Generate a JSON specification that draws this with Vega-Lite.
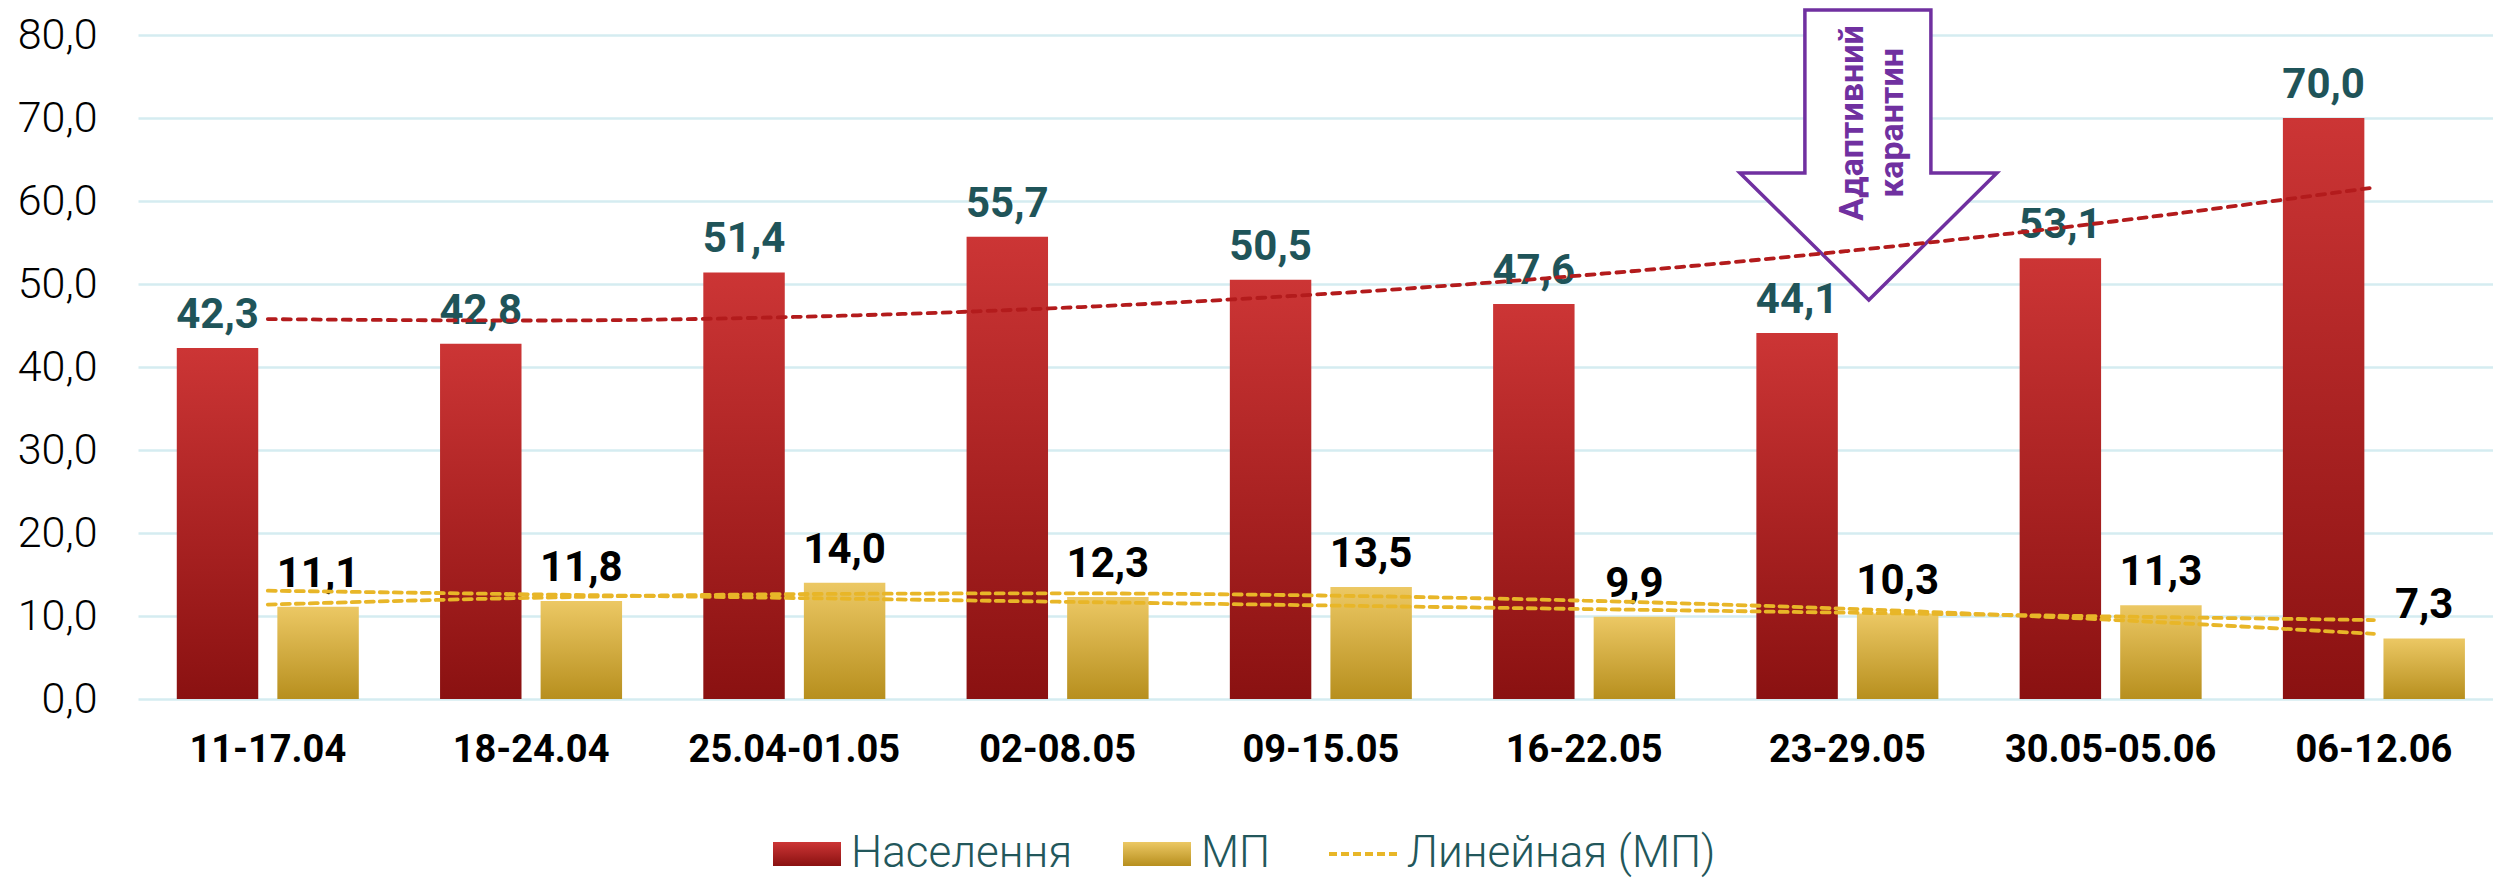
{
  "$schema": "https://vega.github.io/schema/vega-lite/v6.json",
  "width": 2355,
  "height": 664,
  "autosize": {"type": "none"},
  "padding": {"left": 138, "top": 35, "right": 0, "bottom": 179},
  "background": "#ffffff",
  "config": {
    "view": {"stroke": null},
    "locale": {"number": {"decimal": ",", "thousands": " ", "grouping": [3], "currency": ["", ""]}}
  },
  "datasets": {
    "bars": [
      {"week": "11-17.04", "series": "Населення", "value": 42.3},
      {"week": "11-17.04", "series": "МП", "value": 11.1},
      {"week": "18-24.04", "series": "Населення", "value": 42.8},
      {"week": "18-24.04", "series": "МП", "value": 11.8},
      {"week": "25.04-01.05", "series": "Населення", "value": 51.4},
      {"week": "25.04-01.05", "series": "МП", "value": 14.0},
      {"week": "02-08.05", "series": "Населення", "value": 55.7},
      {"week": "02-08.05", "series": "МП", "value": 12.3},
      {"week": "09-15.05", "series": "Населення", "value": 50.5},
      {"week": "09-15.05", "series": "МП", "value": 13.5},
      {"week": "16-22.05", "series": "Населення", "value": 47.6},
      {"week": "16-22.05", "series": "МП", "value": 9.9},
      {"week": "23-29.05", "series": "Населення", "value": 44.1},
      {"week": "23-29.05", "series": "МП", "value": 10.3},
      {"week": "30.05-05.06", "series": "Населення", "value": 53.1},
      {"week": "30.05-05.06", "series": "МП", "value": 11.3},
      {"week": "06-12.06", "series": "Населення", "value": 70.0},
      {"week": "06-12.06", "series": "МП", "value": 7.3}
    ],
    "trends": [
      {"week": "11-17.04", "trend": "Полиномиальная (Населення)", "value": 45.77},
      {"week": "18-24.04", "trend": "Полиномиальная (Населення)", "value": 45.60},
      {"week": "25.04-01.05", "trend": "Полиномиальная (Населення)", "value": 46.03},
      {"week": "02-08.05", "trend": "Полиномиальная (Населення)", "value": 47.10},
      {"week": "09-15.05", "trend": "Полиномиальная (Населення)", "value": 48.77},
      {"week": "16-22.05", "trend": "Полиномиальная (Населення)", "value": 51.06},
      {"week": "23-29.05", "trend": "Полиномиальная (Населення)", "value": 53.97},
      {"week": "30.05-05.06", "trend": "Полиномиальная (Населення)", "value": 57.50},
      {"week": "06-12.06", "trend": "Полиномиальная (Населення)", "value": 61.63},
      {"week": "11-17.04", "trend": "Полиномиальная (МП)", "value": 11.38},
      {"week": "18-24.04", "trend": "Полиномиальная (МП)", "value": 12.19},
      {"week": "25.04-01.05", "trend": "Полиномиальная (МП)", "value": 12.64},
      {"week": "02-08.05", "trend": "Полиномиальная (МП)", "value": 12.73},
      {"week": "09-15.05", "trend": "Полиномиальная (МП)", "value": 12.47},
      {"week": "16-22.05", "trend": "Полиномиальная (МП)", "value": 11.85},
      {"week": "23-29.05", "trend": "Полиномиальная (МП)", "value": 10.87},
      {"week": "30.05-05.06", "trend": "Полиномиальная (МП)", "value": 9.54},
      {"week": "06-12.06", "trend": "Полиномиальная (МП)", "value": 7.85},
      {"week": "11-17.04", "trend": "Линейная (МП)", "value": 13.05},
      {"week": "18-24.04", "trend": "Линейная (МП)", "value": 12.61},
      {"week": "25.04-01.05", "trend": "Линейная (МП)", "value": 12.17},
      {"week": "02-08.05", "trend": "Линейная (МП)", "value": 11.72},
      {"week": "09-15.05", "trend": "Линейная (МП)", "value": 11.28},
      {"week": "16-22.05", "trend": "Линейная (МП)", "value": 10.84},
      {"week": "23-29.05", "trend": "Линейная (МП)", "value": 10.40},
      {"week": "30.05-05.06", "trend": "Линейная (МП)", "value": 9.95},
      {"week": "06-12.06", "trend": "Линейная (МП)", "value": 9.51}
    ],
    "notes": [
      {"week": "23-29.05", "note": "Адаптивний карантин"}
    ]
  },
  "encoding": {
    "x": {
      "field": "week",
      "type": "nominal",
      "scale": {
        "domain": ["11-17.04", "18-24.04", "25.04-01.05", "02-08.05", "09-15.05", "16-22.05", "23-29.05", "30.05-05.06", "06-12.06"],
        "paddingInner": 0.3086,
        "paddingOuter": 0.127,
        "align": 0.58
      },
      "axis": {
        "title": null,
        "labelAngle": 0,
        "labelFont": "Roboto",
        "labelFontWeight": "bold",
        "labelFontSize": 38,
        "labelColor": "#000000",
        "labelLimit": 600,
        "ticks": false,
        "domain": false,
        "grid": false,
        "labelPadding": 32
      }
    }
  },
  "layer": [
    {
      "data": {"name": "bars"},
      "transform": [{"filter": "datum.series === 'Населення'"}],
      "mark": {
        "type": "bar",
        "color": {"gradient": "linear", "x1": 0, "y1": 0, "x2": 0, "y2": 1, "stops": [{"offset": 0, "color": "#cc3535"}, {"offset": 1, "color": "#8a1111"}]}
      },
      "encoding": {
        "xOffset": {"field": "series", "type": "nominal", "scale": {"domain": ["Населення", "МП"], "paddingInner": 0.19, "paddingOuter": 0}},
        "y": {
          "field": "value",
          "type": "quantitative",
          "scale": {"domain": [0, 80], "nice": false},
          "axis": {
            "title": null,
            "values": [0, 10, 20, 30, 40, 50, 60, 70, 80],
            "format": ".1f",
            "labelFont": "Roboto",
            "labelFontWeight": 300,
            "labelFontSize": 43,
            "labelColor": "#000000",
            "ticks": false,
            "domain": false,
            "labelPadding": 41,
            "gridColor": "#d5ecf1",
            "gridWidth": 2.5
          }
        }
      }
    },
    {
      "data": {"name": "bars"},
      "transform": [{"filter": "datum.series === 'МП'"}],
      "mark": {
        "type": "bar",
        "color": {"gradient": "linear", "x1": 0, "y1": 0, "x2": 0, "y2": 1, "stops": [{"offset": 0, "color": "#ecc864"}, {"offset": 1, "color": "#b78f1e"}]}
      },
      "encoding": {
        "xOffset": {"field": "series", "type": "nominal"},
        "y": {"field": "value", "type": "quantitative"}
      }
    },
    {
      "data": {"name": "bars"},
      "mark": {"type": "text", "font": "Roboto", "fontWeight": "bold", "fontSize": 42, "align": "center", "baseline": "alphabetic", "dy": -20},
      "encoding": {
        "xOffset": {"field": "series", "type": "nominal"},
        "y": {"field": "value", "type": "quantitative"},
        "text": {"field": "value", "type": "quantitative", "format": ".1f"},
        "color": {"condition": {"test": "datum.series === 'Населення'", "value": "#1f5459"}, "value": "#000000"}
      }
    },
    {
      "data": {"name": "notes"},
      "mark": {
        "type": "point",
        "shape": "M-0.293,-1L0.576,-1L0.576,0.124L1.031,0.124L0.148,1L-0.741,0.124L-0.293,0.124Z",
        "size": 84100,
        "filled": true,
        "fill": "#ffffff",
        "stroke": "#7030a0",
        "strokeWidth": 3.5,
        "opacity": 1,
        "fillOpacity": 1
      },
      "encoding": {
        "y": {"datum": 65.54, "type": "quantitative"}
      }
    },
    {
      "data": {"name": "notes"},
      "mark": {
        "type": "text",
        "text": ["Адаптивний", "карантин"],
        "angle": 270,
        "font": "Roboto",
        "fontWeight": "bold",
        "fontSize": 34,
        "color": "#7030a0",
        "align": "center",
        "baseline": "middle",
        "lineHeight": 40,
        "dy": 6
      },
      "encoding": {
        "y": {"datum": 69.4, "type": "quantitative"}
      }
    },
    {
      "data": {"name": "trends"},
      "transform": [{"filter": "datum.trend === 'Полиномиальная (Населення)'"}],
      "mark": {"type": "line", "color": "#b31b1c", "strokeWidth": 3.8, "strokeDash": [8, 7], "strokeCap": "round", "interpolate": "monotone"},
      "encoding": {"y": {"field": "value", "type": "quantitative"}}
    },
    {
      "data": {"name": "trends"},
      "transform": [{"filter": "datum.trend === 'Полиномиальная (МП)'"}],
      "mark": {"type": "line", "color": "#e8b628", "strokeWidth": 3.8, "strokeDash": [8, 6], "strokeCap": "round", "interpolate": "monotone"},
      "encoding": {"y": {"field": "value", "type": "quantitative"}}
    },
    {
      "data": {"name": "trends"},
      "transform": [{"filter": "datum.trend === 'Линейная (МП)'"}],
      "mark": {"type": "line", "strokeWidth": 3.8, "strokeDash": [8, 6], "strokeCap": "round"},
      "encoding": {
        "y": {"field": "value", "type": "quantitative"},
        "color": {
          "field": "trend",
          "type": "nominal",
          "scale": {"domain": ["Населення", "МП", "Линейная (МП)"], "range": ["#b52525", "#d4a93a", "#e8b628"]},
          "legend": {
            "title": null,
            "orient": "none",
            "legendX": 647,
            "legendY": 797,
            "direction": "horizontal",
            "symbolSize": 4624,
            "labelFont": "Roboto",
            "labelFontWeight": 300,
            "labelFontSize": 44,
            "labelColor": "#22575b",
            "labelOffset": 22,
            "columnPadding": 50,
            "padding": 0,
            "labelLimit": 600,
            "encode": {
              "symbols": {
                "update": {
                  "shape": {"signal": "datum.value === 'Линейная (МП)' ? 'M-1,0L1,0' : 'M-1,-0.35L1,-0.35L1,0.35L-1,0.35Z'"},
                  "fill": {"signal": "datum.value === 'Населення' ? {gradient: 'linear', x1: 0, y1: 0, x2: 0, y2: 1, stops: [{offset: 0, color: '#cc3535'}, {offset: 1, color: '#8a1111'}]} : datum.value === 'МП' ? {gradient: 'linear', x1: 0, y1: 0, x2: 0, y2: 1, stops: [{offset: 0, color: '#ecc864'}, {offset: 1, color: '#b78f1e'}]} : 'transparent'"},
                  "stroke": {"signal": "datum.value === 'Линейная (МП)' ? '#e8b628' : null"},
                  "strokeWidth": {"signal": "datum.value === 'Линейная (МП)' ? 4 : 0"},
                  "strokeDash": {"signal": "datum.value === 'Линейная (МП)' ? [8, 4] : null"},
                  "opacity": {"value": 1}
                }
              }
            }
          }
        }
      }
    }
  ]
}
